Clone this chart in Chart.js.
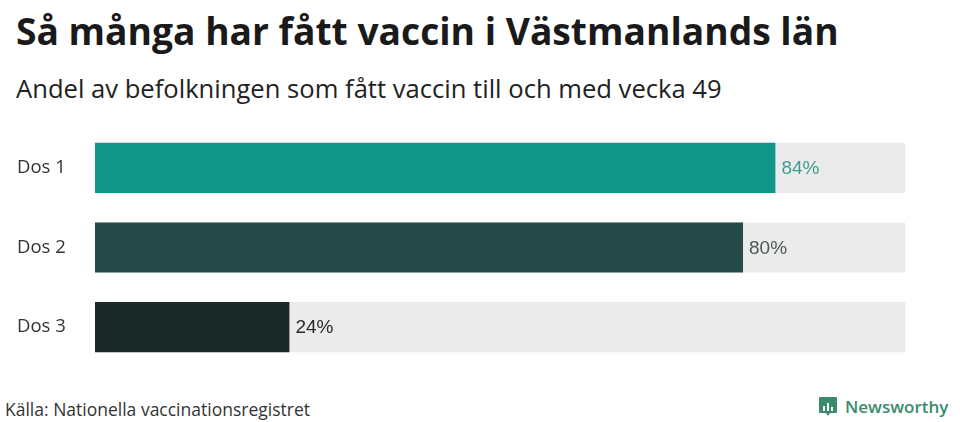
<!DOCTYPE html>
<html lang="sv">
<head>
<meta charset="utf-8">
<script src="https://cdn.jsdelivr.net/npm/chart.js@4/dist/chart.umd.min.js"></script>
<style>
    html, body { margin: 0; padding: 0; background: #fff; }
    body { width: 960px; height: 422px; position: relative; overflow: hidden; font-family: "Open Sans", "Noto Sans", sans-serif; }
    #title { position: absolute; left: 16px; top: 5px; font-size: 37.2px; font-weight: 700; color: #1a1a1a; white-space: nowrap; }
    #subtitle { position: absolute; left: 16px; top: 71px; font-size: 25.6px; color: #222; white-space: nowrap; }
    #wrap { position: absolute; left: 0; top: 114px; width: 960px; height: 267px; }
    #source { position: absolute; left: 5px; top: 397px; font-size: 17.5px; color: #333; white-space: nowrap; }
    #brand { position: absolute; left: 818px; top: 395px; display: flex; align-items: center; color: #3b8a6c; font-weight: 600; font-size: 17px; }
    #brand .icon { width: 20px; height: 21px; margin-right: 7px; }
</style>
</head>
<body>
<div id="title">Så många har fått vaccin i Västmanlands län</div>
<div id="subtitle">Andel av befolkningen som fått vaccin till och med vecka 49</div>
<div id="wrap"><canvas id="vaccinChart"></canvas></div>
<div id="source">Källa: Nationella vaccinationsregistret</div>
<div id="brand">
    <svg class="icon" viewBox="0 0 20 21">
        <path d="M2 1 H18 Q19 1 19 2 V16 Q19 17 18 17 H12 L10 20 L8 17 H2 Q1 17 1 16 V2 Q1 1 2 1 Z" fill="#3b8a6c"/>
        <rect x="5" y="10" width="2" height="5" fill="#fff"/>
        <rect x="9" y="7" width="2" height="8" fill="#fff"/>
        <rect x="13" y="11" width="2" height="4" fill="#fff"/>
    </svg>
    <span>Newsworthy</span>
</div>
<script>
const doses = ['Dos 1', 'Dos 2', 'Dos 3'];
const shares = [84, 80, 24];
const track = [100, 100, 100];

const barColors = ['#13968a', '#264a47', '#1b2927'];
const labelColors = ['#3f9d90', '#4b5b58', '#2a2a2a'];

// writes "84%" etc. right after each bar
const valueLabels = {
    id: 'valueLabels',
    afterDatasetsDraw(chart) {
        const ctx = chart.ctx;
        const meta = chart.getDatasetMeta(1);
        ctx.save();
        ctx.font = '19px "Liberation Sans", Arial, sans-serif';
        ctx.textAlign = 'left';
        ctx.textBaseline = 'middle';
        meta.data.forEach((bar, i) => {
            ctx.fillStyle = labelColors[i];
            ctx.fillText(shares[i] + '%', bar.x + 6, bar.y + 1);
        });
        ctx.restore();
    }
};

new Chart(document.getElementById('vaccinChart').getContext('2d'), {
    type: 'bar',
    data: {
        labels: doses,
        datasets: [
            {
                label: 'bakgrund',
                data: track,
                backgroundColor: '#ebebeb',
                order: 2
            },
            {
                label: 'Andel',
                data: shares,
                backgroundColor: barColors,
                order: 1
            }
        ]
    },
    options: {
        indexAxis: 'y',
        responsive: true,
        maintainAspectRatio: false,
        animation: false,
        layout: { padding: { left: 17, right: 55, top: 0, bottom: 0 } },
        datasets: {
            bar: {
                grouped: false,
                categoryPercentage: 1,
                barPercentage: 0.63,
                borderWidth: 0
            }
        },
        plugins: {
            legend: { display: false },
            tooltip: { enabled: false }
        },
        scales: {
            x: {
                min: 0,
                max: 100,
                display: false
            },
            y: {
                grid: { display: false },
                border: { display: false },
                afterFit: (scale) => { scale.width = 78; },
                ticks: {
                    crossAlign: 'far',
                    color: '#333',
                    font: { family: '"Open Sans", "Noto Sans", sans-serif', size: 18.5 }
                }
            }
        }
    },
    plugins: [valueLabels]
});
</script>
</body>
</html>
